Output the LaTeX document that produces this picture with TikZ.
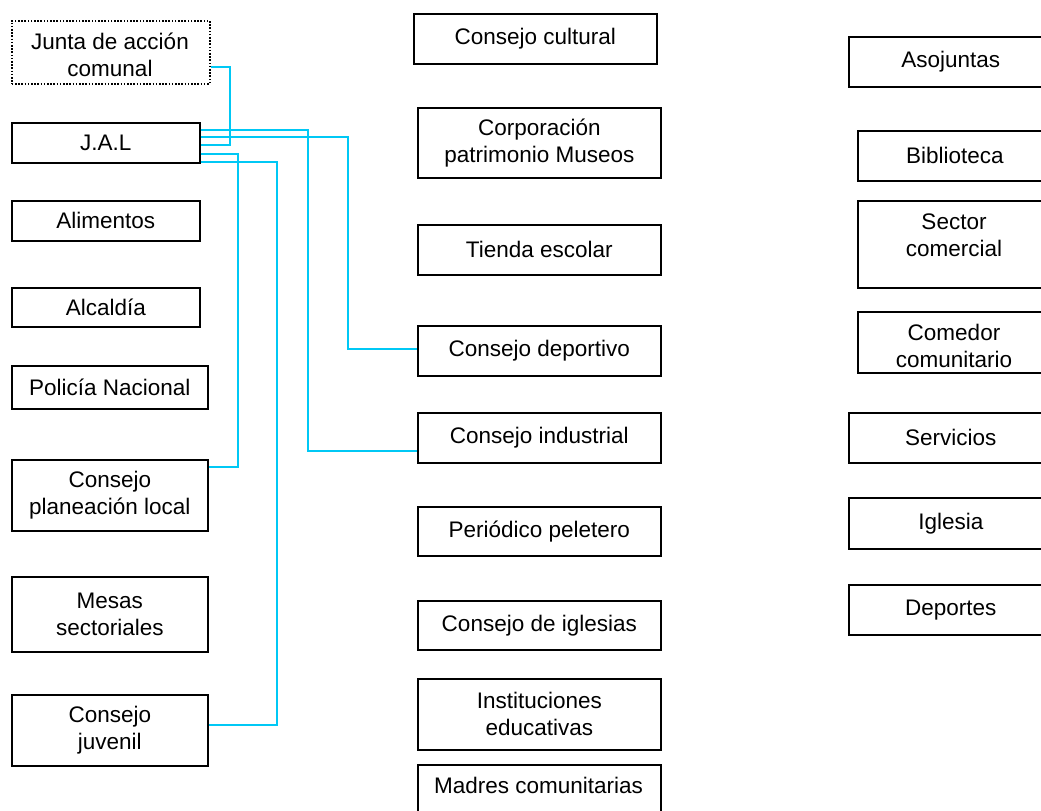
\documentclass[tikz,border=0pt]{standalone}
\usepackage{fontspec}
\setmainfont{Liberation Sans}
\definecolor{linkcyan}{RGB}{0,200,245}
\tikzset{
  box/.style={draw=black, line width=1.6bp, rectangle, align=center, inner sep=0pt,
    anchor=north west, font=\fontsize{22.5bp}{27bp}\selectfont},
  dotbox/.style={box, dash pattern=on 1.6bp off 1.6bp},
  txt/.style={align=center, inner sep=0pt, font=\fontsize{22.5bp}{27bp}\selectfont},
  link/.style={draw=linkcyan, line width=1.5bp}
}
\begin{document}
\begin{tikzpicture}[x=1bp,y=-1bp]
\path[use as bounding box, clip] (0,0) rectangle (1041,811);
\fill[white] (0,0) rectangle (1041,811);
% left column
\node[dotbox, minimum width=198bp, minimum height=63bp] (jac) at (11,20) {};
\node[txt] (jact) at (110,54.5) {Junta de acción\\comunal};
\node[box, minimum width=188bp, minimum height=40bp] (jal) at (11,122) {J.A.L};
\node[box, minimum width=188bp, minimum height=40bp] (alim) at (11,200) {Alimentos};
\node[box, minimum width=188bp, minimum height=39bp] (alc) at (11,287) {Alcaldía};
\node[box, minimum width=196bp, minimum height=43bp] (pol) at (11,365) {Policía Nacional};
\node[box, minimum width=196bp, minimum height=71bp] (cpl) at (11,459) {Consejo\\planeación local};
\node[box, minimum width=196bp, minimum height=75bp] (mes) at (11,576) {Mesas\\sectoriales};
\node[box, minimum width=196bp, minimum height=71bp] (cjuv) at (11,694) {Consejo\\juvenil};
% middle column
\node[box, minimum width=243bp, minimum height=50bp] (ccul) at (413,13) {Consejo cultural};
\node[box, minimum width=243bp, minimum height=70bp] (corp) at (417,107) {Corporación\\patrimonio Museos};
\node[box, minimum width=243bp, minimum height=50bp] (tie) at (417,224) {Tienda escolar};
\node[box, minimum width=243bp, minimum height=50bp] (cdep) at (417,325) {Consejo deportivo};
\node[box, minimum width=243bp, minimum height=50bp] (cind) at (417,412) {Consejo industrial};
\node[box, minimum width=243bp, minimum height=49bp] (per) at (417,506) {Periódico peletero};
\node[box, minimum width=243bp, minimum height=49bp] (cigl) at (417,600) {Consejo de iglesias};
\node[box, minimum width=243bp, minimum height=71bp] (inst) at (417,678) {Instituciones\\educativas};
\node[box, minimum width=243bp, minimum height=80bp] (madr) at (417,764) {};
\node[txt] (madrt) at (538.5,785) {Madres comunitarias};
% right column
\node[box, minimum width=204bp, minimum height=50bp] (aso) at (848,36) {Asojuntas};
\node[box, minimum width=194bp, minimum height=50bp] (bib) at (857,130) {Biblioteca};
\node[box, minimum width=194bp, minimum height=87bp] (sec) at (857,200) {};
\node[txt] (sect) at (954,235) {Sector\\comercial};
\node[box, minimum width=194bp, minimum height=61bp] (com) at (857,311) {};
\node[txt] (comt) at (954,346) {Comedor\\comunitario};
\node[box, minimum width=204bp, minimum height=50bp] (serv) at (848,412) {Servicios};
\node[box, minimum width=204bp, minimum height=51bp] (igl) at (848,497) {Iglesia};
\node[box, minimum width=204bp, minimum height=50bp] (dep) at (848,584) {Deportes};
% connectors
\draw[link] (jac.east |- 0,67) -- (230,67) |- (jal.east |- 0,145);
\draw[link] (jal.east |- 0,130) -- (308,130) |- (cind.west |- 0,451);
\draw[link] (jal.east |- 0,137) -- (348,137) |- (cdep.west |- 0,349);
\draw[link] (jal.east |- 0,154) -- (238,154) |- (cpl.east |- 0,467);
\draw[link] (jal.east |- 0,162) -- (277,162) |- (cjuv.east |- 0,725);
\end{tikzpicture}
\end{document}
